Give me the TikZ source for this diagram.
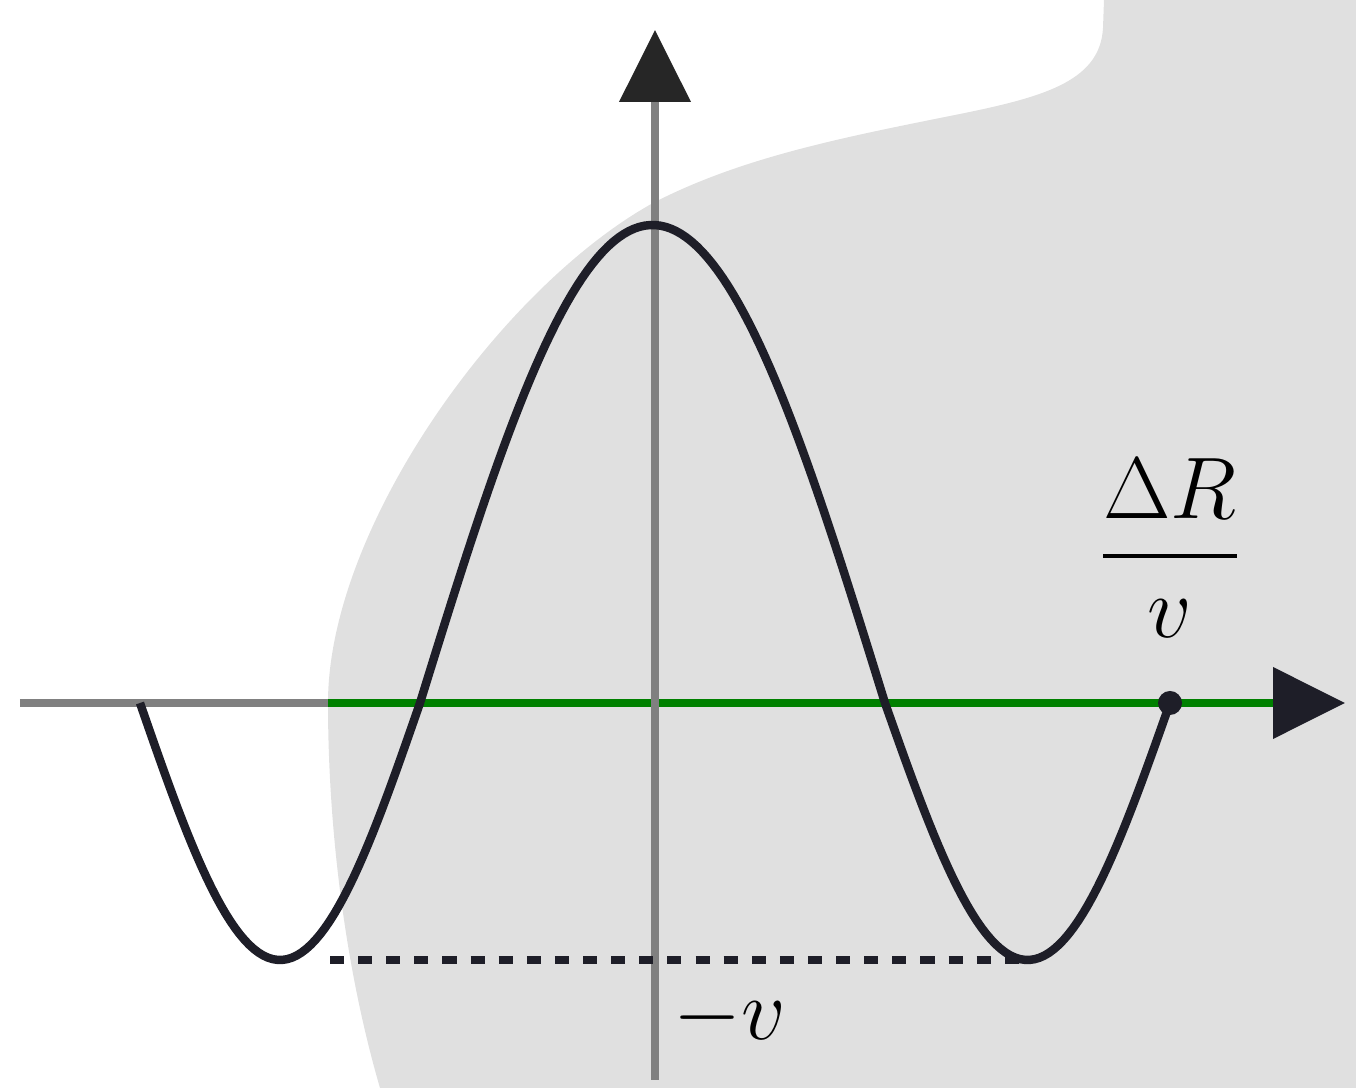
\documentclass[tikz,border=0pt]{standalone}
\usepackage{amsmath,amssymb}
\usetikzlibrary{arrows.meta,calc,positioning}
\definecolor{regiongray}{RGB}{224,224,224}
\definecolor{axisgray}{RGB}{128,128,128}
\definecolor{axisgreen}{RGB}{0,128,0}
\definecolor{wavedark}{RGB}{30,30,40}

\begin{document}
\begin{tikzpicture}[font=\fontsize{26}{30}\selectfont,inner sep=2pt,
  axis/.style={line width=2.2pt,axisgray},
  wave/.style={line width=2.4pt,wavedark},
  bigtip/.style={-{Triangle[length=0.72cm,width=0.7cm,color=#1]}}]
\useasboundingbox (0,0) rectangle (13.56,10.88);
% shaded region behind the wave
\fill[regiongray] (3.80,0) .. controls (3.45,1.2) and (3.28,2.6) .. (3.28,3.85)
  .. controls (3.28,5.6) and (5.0,8.0) .. (6.53,8.85)
  .. controls (7.4,9.3) and (8.4,9.5) .. (9.5,9.72)
  .. controls (10.4,9.90) and (11.0,10.05) .. (11.03,10.6)
  -- (11.04,10.88) -- (13.56,10.88) -- (13.56,0) -- cycle;
\coordinate (o) at (6.55,3.85);
\coordinate (xl) at (0.20,3.85);
\coordinate (xm) at (3.28,3.85);
\coordinate (xr) at (13.45,3.85);
\coordinate (yb) at (6.55,0.08);
\coordinate (yt) at (6.55,10.58);
\coordinate (dl) at (3.30,1.28);
\coordinate (dr) at (10.30,1.28);
\draw[axis] (xl)--(xm);
\draw[line width=2.2pt,axisgreen,bigtip=wavedark] (xm)--(xr);
\draw[axis,bigtip={black!85}] (yb)--(yt);
\draw[wavedark,line width=2pt,dash pattern=on 4pt off 4pt] (dl)--(dr);
% the wave
\draw[wave] plot[domain=1.40:4.20,samples=60] (\x,{3.85-2.57*sin(180*(\x-1.40)/2.80)})
  -- plot[domain=4.20:8.85,samples=90] (\x,{3.85+4.78*cos(180*(\x-6.525)/4.65)})
  -- plot[domain=8.85:11.70,samples=60] (\x,{3.85-2.57*sin(180*(\x-8.85)/2.85)});
\node[circle,fill=wavedark,minimum size=0.24cm,inner sep=0] (end) at (11.70,3.85) {};
\node[above=0.45cm of end] (frac) {$\dfrac{\Delta R}{v}$};
\node (minusv) at (7.30,0.70) {$-v$};
\end{tikzpicture}
\end{document}
